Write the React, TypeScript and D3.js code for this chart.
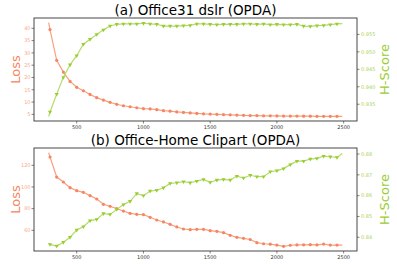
import React from "react";
import * as d3 from "d3";

const iters = [300,350,400,450,500,550,600,650,700,750,800,850,900,950,1000,1050,1100,1150,1200,1250,1300,1350,1400,1450,1500,1550,1600,1650,1700,1750,1800,1850,1900,1950,2000,2050,2100,2150,2200,2250,2300,2350,2400,2450];
const lineStart = 290;
const lineEnd = 2490;

const lossA = [39.5,27.0,22.2,18.4,16.0,14.6,13.1,11.8,10.8,9.9,9.1,8.5,8.1,7.7,7.3,7.2,6.9,6.5,6.3,6.0,5.8,5.6,5.4,5.2,5.1,5.0,4.9,4.8,4.7,4.6,4.5,4.5,4.4,4.4,4.35,4.3,4.3,4.3,4.25,4.25,4.2,4.2,4.2,4.2];
const lossAStart = 42.3, lossAEnd = 4.2;
const hA = [0.9328,0.9379,0.9427,0.9463,0.9489,0.9522,0.9536,0.9550,0.9563,0.9574,0.9579,0.9580,0.9580,0.9580,0.9582,0.9580,0.9579,0.9574,0.9574,0.9574,0.9575,0.9576,0.9580,0.9580,0.9579,0.9578,0.9579,0.9579,0.9579,0.9580,0.9580,0.9579,0.9580,0.9578,0.9579,0.9578,0.9578,0.9579,0.9574,0.9573,0.9575,0.9576,0.9578,0.9580];
const hAStart = 0.9315, hAEnd = 0.9581;

const lossB = [127.7,109.2,104.6,99.4,96.6,95.1,92.0,88.9,84.0,82.2,80.0,77.8,75.7,74.8,74.5,72.0,69.5,67.7,65.5,63.1,61.2,60.6,60.9,60.9,59.7,59.1,57.8,55.4,53.5,52.6,51.5,48.6,47.6,47.2,46.4,45.2,46.2,46.5,46.6,46.7,46.5,47.3,46.4,46.4];
const lossBStart = 131.7, lossBEnd = 46.3;
const hB = [0.8366,0.8358,0.8376,0.8400,0.8435,0.8451,0.8480,0.8486,0.8514,0.8510,0.8534,0.8557,0.8573,0.8610,0.8600,0.8622,0.8626,0.8638,0.8659,0.8662,0.8667,0.8662,0.8670,0.8678,0.8664,0.8675,0.8678,0.8675,0.8694,0.8685,0.8698,0.8691,0.8691,0.8715,0.8720,0.8730,0.8749,0.8766,0.8766,0.8776,0.8779,0.8790,0.8787,0.8784];
const hBStart = 0.8370, hBEnd = 0.8803;

const xTicks = [500,1000,1500,2000,2500];
const lossTicksA = [5,10,15,20,25,30,35,40];
const hTicksA = [0.935,0.940,0.945,0.950,0.955];
const lossTicksB = [60,80,100,120];
const hTicksB = [0.84,0.85,0.86,0.87,0.88];

const titles = ["(a) Office31 dslr (OPDA)", "(b) Office-Home Clipart (OPDA)"];

const ORANGE = "#f5865f";
const ORANGE_LINE = "#f9a080";
const ORANGE_TXT = "#f9a98b";
const GREEN = "#9acd32";
const GREEN_LINE = "#b3dc6a";
const GREEN_TXT = "#a8d456";
const FONT = "DejaVu Sans, sans-serif";

const L = 34, R = 357;

function Panel({ top, bottom, title, loss, ls, le, h, hs, he, lossDomain, hDomain, lossTicks, hTicks, hFmt }: any) {
  const x = d3.scaleLinear().domain([180, 2600]).range([L, R]);
  const yL = d3.scaleLinear().domain(lossDomain).range([bottom, top]);
  const yH = d3.scaleLinear().domain(hDomain).range([bottom, top]);
  const lossPts: [number, number][] = [[lineStart, ls], ...iters.map((it, i) => [it, loss[i]] as [number, number]), [lineEnd, le]];
  const hPts: [number, number][] = [[lineStart, hs], ...iters.map((it, i) => [it, h[i]] as [number, number]), [lineEnd, he]];
  const lineL = d3.line<[number, number]>().x(d => x(d[0])).y(d => yL(d[1]));
  const lineH = d3.line<[number, number]>().x(d => x(d[0])).y(d => yH(d[1]));
  const tri = d3.symbol().type(d3.symbolTriangle).size(7.5)();
  return (
    <g>
      <text x={(L + R) / 2} y={top - 3} textAnchor="middle" fontFamily={FONT} fontSize={13.5} fill="#000">{title}</text>
      <path d={lineL(lossPts) || ""} fill="none" stroke={ORANGE_LINE} strokeWidth={1.2} />
      {iters.map((it, i) => (
        <circle key={"l" + i} cx={x(it)} cy={yL(loss[i])} r={1.6} fill={ORANGE} />
      ))}
      <path d={lineH(hPts) || ""} fill="none" stroke={GREEN_LINE} strokeWidth={1.2} />
      {iters.map((it, i) => (
        <path key={"h" + i} d={tri} transform={`translate(${x(it)},${yH(h[i])}) rotate(180)`} fill={GREEN} />
      ))}
      <rect x={L} y={top} width={R - L} height={bottom - top} fill="none" stroke="#333" strokeWidth={0.9} />
      {xTicks.map(t => (
        <g key={"x" + t}>
          <line x1={x(t)} x2={x(t)} y1={bottom} y2={bottom + 2.5} stroke="#333" strokeWidth={0.6} />
          <text x={x(t)} y={bottom + 8} textAnchor="middle" fontFamily={FONT} fontSize={5} fill="#333">{t}</text>
        </g>
      ))}
      {lossTicks.map((t: number) => (
        <g key={"yl" + t}>
          <line x1={L - 2.5} x2={L} y1={yL(t)} y2={yL(t)} stroke="#333" strokeWidth={0.6} />
          <text x={L - 3.5} y={yL(t) + 1.8} textAnchor="end" fontFamily={FONT} fontSize={5} fill={ORANGE_TXT}>{t}</text>
        </g>
      ))}
      {hTicks.map((t: number) => (
        <g key={"yh" + t}>
          <line x1={R} x2={R + 2.5} y1={yH(t)} y2={yH(t)} stroke="#333" strokeWidth={0.6} />
          <text x={R + 4} y={yH(t) + 1.8} textAnchor="start" fontFamily={FONT} fontSize={5} fill={GREEN_TXT}>{hFmt(t)}</text>
        </g>
      ))}
      <text transform={`translate(20,${(top + bottom) / 2}) rotate(-90)`} textAnchor="middle" fontFamily={FONT} fontSize={13} fill={ORANGE}>Loss</text>
      <text transform={`translate(389,${(top + bottom) / 2}) rotate(-90)`} textAnchor="middle" fontFamily={FONT} fontSize={13} fill={GREEN}>H-Score</text>
    </g>
  );
}

export default function App() {
  return (
    <div style={{ position: "fixed", left: 0, top: 0 }}>
      <svg width={397} height={264} style={{ display: "block", background: "#fff" }}>
        <Panel top={18} bottom={121} title={titles[0]} loss={lossA} ls={lossAStart} le={lossAEnd} h={hA} hs={hAStart} he={hAEnd}
          lossDomain={[2.3, 44.2]} hDomain={[0.9302, 0.9597]} lossTicks={lossTicksA} hTicks={hTicksA} hFmt={d3.format(".3f")} />
        <Panel top={148} bottom={251} title={titles[1]} loss={lossB} ls={lossBStart} le={lossBEnd} h={hB} hs={hBStart} he={hBEnd}
          lossDomain={[40.9, 136]} hDomain={[0.8334, 0.8829]} lossTicks={lossTicksB} hTicks={hTicksB} hFmt={d3.format(".2f")} />
      </svg>
    </div>
  );
}
